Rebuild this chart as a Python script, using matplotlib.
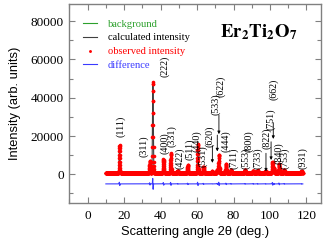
import numpy as np
import matplotlib
matplotlib.use("Agg")
import matplotlib.pyplot as plt

# ---- data ----
peak_pos = [17.5, 34.1, 35.8, 41.6, 45.6, 49.4, 54.9, 60.4, 63.5, 68.4, 71.1, 72.0,
            75.9, 78.6, 86.3, 90.8, 93.2, 97.6, 101.4, 102.2, 105.0, 107.8, 117.3]
peak_height = [14500, 6500, 47500, 7200, 10200, 1200, 4200, 15200, 3300, 800, 1800, 9600,
               4600, 1700, 1700, 1200, 1300, 900, 5800, 2500, 4700, 1700, 800]
diff_amp = [900, 600, 3000, 700, 800, 200, 400, 900, 300, 100, 300, 900,
            400, 200, 200, 200, 200, 150, 700, 300, 500, 200, 150]
background_level = 700
diff_offset = -5000
theta_min, theta_max, theta_step = 10.0, 118.0, 0.05

labels = ["(111)", "(311)", "(222)", "(400)", "(331)", "(422)", "(511)", "(440)",
          "(531)", "(620)", "(533)", "(622)", "(444)", "(711)", "(553)", "(800)",
          "(733)", "(822)", "(751)", "(662)", "(840)", "(753)", "(931)"]
label_x = [18.2, 31.0, 42.0, 42.0, 46.3, 50.3, 55.8, 60.0, 63.3, 67.1, 70.2, 73.0,
           75.9, 79.9, 86.8, 88.6, 93.0, 98.1, 100.3, 102.1, 105.0, 108.1, 118.2]
label_y = [19500, 9000, 51000, 10800, 14300, 3000, 7300, 11600, 3800, 14300, 30800, 40300,
           11600, 3000, 3000, 11600, 3000, 13400, 23000, 38600, 5600, 3000, 3000]
arrow_x = [68.4, 71.1, 72.0, 97.8, 100.6, 101.8]
arrow_top = [15000, 20500, 31000, 11000, 17000, 27000]
arrow_bottom = [6000, 12000, 21000, 1500, 7500, 18500]

# ---- build profiles from the peak list ----
tt = np.arange(theta_min, theta_max + 1e-9, theta_step)
width = 0.22
calc = np.full_like(tt, background_level, dtype=float)
diff = np.full_like(tt, diff_offset, dtype=float)
for p, h, a in zip(peak_pos, peak_height, diff_amp):
    g = np.exp(-0.5 * ((tt - p) / width) ** 2)
    calc += h * g
    diff += a * (np.exp(-0.5 * ((tt - p + 0.12) / 0.08) ** 2)
                 - np.exp(-0.5 * ((tt - p - 0.12) / 0.08) ** 2))
obs = calc.copy()
bg = np.full_like(tt, background_level, dtype=float)

plt.rcParams['mathtext.fontset'] = 'stix'
serif = 'Liberation Serif'
sans = 'Liberation Sans'

fig = plt.figure(figsize=(3.32, 2.47), dpi=100)
ax = fig.add_axes([0.209, 0.178, 0.758, 0.806])

ax.plot(tt, bg, color='#2ca02c', lw=0.8, label='background', zorder=1)
ax.plot(tt, calc, color='#404040', lw=0.8, label='calculated intensity', zorder=2)
ax.plot(tt, obs, 'o', color='#ff0000', ms=2.6, mec='none', label='observed intensity', zorder=3)
ax.plot(tt, diff, color='#3a3aff', lw=0.8, label='difference', zorder=2)

for t, x, y in zip(labels, label_x, label_y):
    ax.text(x, y, t, rotation=90, ha='center', va='bottom', fontsize=7.2,
            family=serif, color='black')
for x, yt, yb in zip(arrow_x, arrow_top, arrow_bottom):
    ax.annotate('', xy=(x, yb), xytext=(x, yt),
                arrowprops=dict(arrowstyle='-|>', color='black', lw=0.6,
                                mutation_scale=4, shrinkA=0, shrinkB=0))

ax.set_xlim(-10, 128)
ax.set_ylim(-15000, 89000)
ax.set_xticks([0, 20, 40, 60, 80, 100, 120])
ax.set_xticks(np.arange(-10, 128, 10), minor=True)
ax.set_yticks([0, 20000, 40000, 60000, 80000])
ax.set_yticks(np.arange(-10000, 89000, 10000), minor=True)
ax.tick_params(which='both', direction='in', top=True, right=True, color='#808080')
ax.tick_params(which='major', length=4, width=0.8, labelsize=9.5)
ax.tick_params(axis='x', which='major', pad=5)
ax.tick_params(axis='y', which='major', pad=4)
ax.tick_params(which='minor', length=3, width=0.8)
for lab in ax.get_xticklabels() + ax.get_yticklabels():
    lab.set_family(serif)
for s in ax.spines.values():
    s.set_color('#808080')
    s.set_linewidth(1.0)

ax.set_xlabel('Scattering angle 2θ (deg.)', family=sans, fontsize=9.3, labelpad=3)
ax.set_ylabel('Intensity (arb. units)', family=sans, fontsize=9.3, labelpad=7)

handles, labs = ax.get_legend_handles_labels()
leg = ax.legend(handles, labs,
                loc='upper left', bbox_to_anchor=(0.03, 0.955), frameon=False,
                prop={'family': serif, 'size': 7.6}, handlelength=1.3,
                handletextpad=1.0, labelspacing=0.42, markerscale=0.8,
                borderaxespad=0.2)
for txt, c in zip(leg.get_texts(), ['#2ca02c', '#000000', '#ff0000', '#3a3aff']):
    txt.set_color(c)

ax.text(0.60, 0.86, r'$\mathbf{Er_2Ti_2O_7}$', transform=ax.transAxes,
        fontsize=13.5, ha='left', va='center')

fig.savefig('out.png', dpi=100)
